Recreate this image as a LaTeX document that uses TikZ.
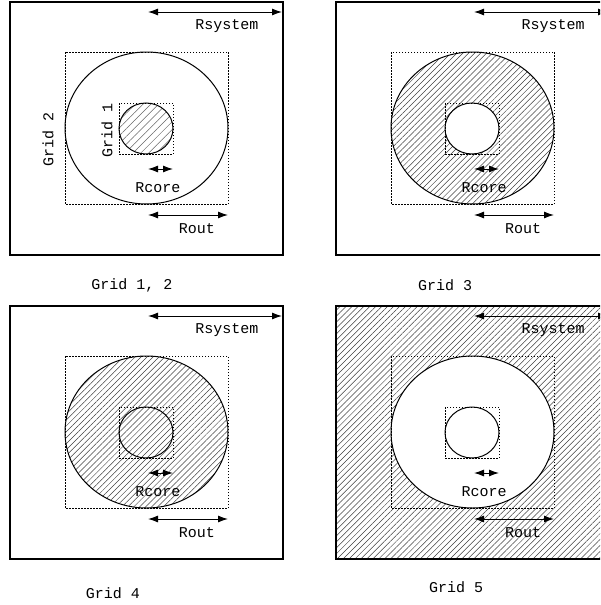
\documentclass[tikz,border=0pt]{standalone}
\usepackage{fontspec}
\setmonofont{Liberation Mono}
\usetikzlibrary{arrows.meta,patterns.meta}
\tikzset{
  dimarrow/.style={line width=1pt, {Latex[length=10pt,width=7pt]}-{Latex[length=10pt,width=7pt]}},
  gridbox/.style={dash pattern=on 1.5pt off 1.5pt, line width=1pt},
  hatch/.style={pattern={Lines[angle=45,distance=4.2pt,line width=0.5pt]}, pattern color=black!75},
  coarsehatch/.style={pattern={Lines[angle=45,distance=5.5pt,line width=0.5pt]}, pattern color=black!60},
  lbl/.style={font=\fontsize{15}{17}\selectfont\ttfamily, inner sep=0pt}
}
\begin{document}
\begin{tikzpicture}[x=1pt,y=-1pt]
\useasboundingbox (0,0) rectangle (600,605);
\clip (0,0) rectangle (600,605);
% hatched regions
\fill[coarsehatch] (146,128.5) ellipse [x radius=27, y radius=25.5];
\fill[hatch, even odd rule] (472.5,128) ellipse [x radius=81.5, y radius=76] (472,128.5) ellipse [x radius=27, y radius=25.5];
\fill[hatch] (146.5,432) ellipse [x radius=81.5, y radius=76];
\fill[hatch, even odd rule] (336,306) rectangle (609,559) (472.5,432) ellipse [x radius=81.5, y radius=76];
% the four panels
\foreach \dx/\dy/\i in {0/0/1, 326/0/2, 0/304/3, 326/304/4}{
\begin{scope}[shift={(\dx,\dy)}]
\draw [line width=1.2pt] (10, 2) rectangle (283, 255) ;
\draw [gridbox] (65, 52) rectangle (228, 204) ;
\draw [gridbox] (119, 103) rectangle (173, 154) ;
\draw [line width=1pt] (146.5, 128) ellipse [x radius=81.5, y radius=76] ;
\draw [line width=1pt] (146, 128.5) ellipse [x radius=27, y radius=25.5] ;
\coordinate (rsa\i) at (148, 12) ;
\coordinate (rsb\i) at (282, 12) ;
\draw [dimarrow] (rsa\i) -- (rsb\i) ;
\node [lbl] (rsystem\i) at (227, 26) {Rsystem};
\coordinate (rca\i) at (148, 169) ;
\coordinate (rcb\i) at (173, 169) ;
\draw [dimarrow] (rca\i) -- (rcb\i) ;
\node [lbl] (rcore\i) at (158, 188) {Rcore};
\coordinate (roa\i) at (148, 215) ;
\coordinate (rob\i) at (228, 215) ;
\draw [dimarrow] (roa\i) -- (rob\i) ;
\node [lbl] (rout\i) at (197, 229) {Rout};
\end{scope}
}
% grid labels
\node [lbl, rotate=90] (grid2) at (48, 139) {Grid 2};
\node [lbl, rotate=90] (grid1) at (107, 130) {Grid 1};
% captions
\node [lbl] (cap1) at (132, 285) {Grid 1, 2};
\node [lbl] (cap2) at (445, 285) {Grid 3};
\node [lbl] (cap3) at (113, 593) {Grid 4};
\node [lbl] (cap4) at (456, 587) {Grid 5};
\end{tikzpicture}
\end{document}
